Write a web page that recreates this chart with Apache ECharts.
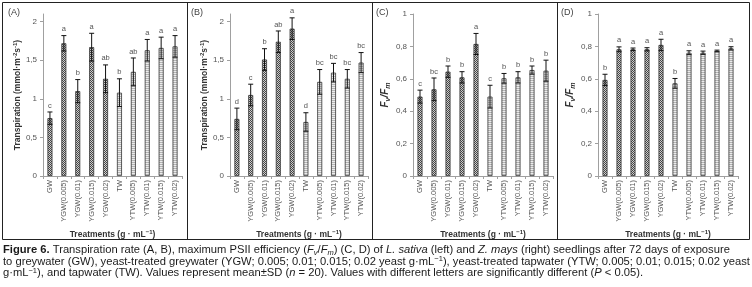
<!DOCTYPE html>
<html>
<head>
<meta charset="utf-8">
<script src="https://cdn.jsdelivr.net/npm/echarts@6/dist/echarts.min.js"></script>
<style>
  html, body { margin: 0; padding: 0; background: #fff; }
  #main { width: 752px; height: 287px; }
</style>
</head>
<body>
<div id="main"></div>
<script>
  // treatments on the x axis (same for all four panels)
  var treatments = ['GW', 'YGW(0.005)', 'YGW(0.01)', 'YGW(0.015)', 'YGW(0.02)',
                    'TW', 'YTW(0.005)', 'YTW(0.01)', 'YTW(0.015)', 'YTW(0.02)'];

  // (A) transpiration, L. sativa
  var transpSativa = [0.75, 1.72, 1.10, 1.67, 1.26, 1.08, 1.35, 1.63, 1.66, 1.68];
  var transpSativaSd = [0.08, 0.10, 0.15, 0.18, 0.18, 0.18, 0.18, 0.14, 0.14, 0.14];
  var transpSativaLetters = ['c', 'a', 'b', 'a', 'ab', 'b', 'ab', 'a', 'a', 'a'];

  // (B) transpiration, Z. mays
  var transpMays = [0.74, 1.05, 1.51, 1.74, 1.91, 0.70, 1.22, 1.34, 1.26, 1.47];
  var transpMaysSd = [0.14, 0.14, 0.14, 0.14, 0.14, 0.12, 0.16, 0.12, 0.12, 0.13];
  var transpMaysLetters = ['d', 'c', 'b', 'ab', 'a', 'd', 'bc', 'bc', 'bc', 'bc'];

  // (C) Fv/Fm, L. sativa
  var fvfmSativa = [0.49, 0.535, 0.644, 0.609, 0.815, 0.49, 0.603, 0.609, 0.654, 0.65];
  var fvfmSativaSd = [0.04, 0.07, 0.035, 0.035, 0.065, 0.07, 0.03, 0.035, 0.025, 0.065];
  var fvfmSativaLetters = ['c', 'bc', 'b', 'b', 'a', 'c', 'b', 'b', 'b', 'b'];

  // (D) Fv/Fm, Z. mays
  var fvfmMays = [0.593, 0.782, 0.782, 0.782, 0.809, 0.572, 0.761, 0.761, 0.772, 0.788];
  var fvfmMaysSd = [0.035, 0.015, 0.008, 0.01, 0.035, 0.03, 0.012, 0.01, 0.005, 0.01];
  var fvfmMaysLetters = ['b', 'a', 'a', 'a', 'a', 'b', 'a', 'a', 'a', 'a'];

  // y axis ticks
  var transpTicks = [0, 0.5, 1, 1.5, 2];
  var fvfmTicks = [0, 0.2, 0.4, 0.6, 0.8, 1];

  // hatch fills, like the excel patterns
  function makePattern(kind) {
    var c = document.createElement('canvas');
    c.width = 2; c.height = 2;
    var ctx = c.getContext('2d');
    if (kind === 'dark') {
      ctx.fillStyle = '#cfcfcf'; ctx.fillRect(0, 0, 2, 2);
      ctx.fillStyle = '#454545'; ctx.fillRect(0, 0, 1, 1); ctx.fillRect(1, 1, 1, 1);
    } else {
      ctx.fillStyle = '#ececec'; ctx.fillRect(0, 0, 2, 2);
      ctx.fillStyle = '#b4b4b4'; ctx.fillRect(0, 0, 2, 1);
    }
    return {image: c, repeat: 'repeat'};
  }
  var darkFill = makePattern('dark');
  var lightFill = makePattern('light');

  var panels = [
    {tag: '(A)', vals: transpSativa, sd: transpSativaSd, letters: transpSativaLetters, ticks: transpTicks, max: 2.1, left: 43, width: 139, kind: 't'},
    {tag: '(B)', vals: transpMays, sd: transpMaysSd, letters: transpMaysLetters, ticks: transpTicks, max: 2.1, left: 230, width: 138, kind: 't'},
    {tag: '(C)', vals: fvfmSativa, sd: fvfmSativaSd, letters: fvfmSativaLetters, ticks: fvfmTicks, max: 1, left: 413, width: 140, kind: 'f'},
    {tag: '(D)', vals: fvfmMays, sd: fvfmMaysSd, letters: fvfmMaysLetters, ticks: fvfmTicks, max: 1, left: 598, width: 140, kind: 'f'}
  ];

  var textColor = '#404040';
  var axisColor = '#a0a0a0';

  var transpName = '{t|Transpiration (mmol·m}{sup|-2}{t|s}{sup|-1}{t|)}';
  var fvfmName = '{i|F}{sub|v}{i|/F}{sub|m}';

  var grid = [], xAxis = [], yAxis = [], series = [], graphic = [];

  panels.forEach(function (p, k) {
    grid.push({left: p.left, top: 14, width: p.width, height: 162});
    xAxis.push({
      type: 'category',
      gridIndex: k,
      data: treatments,
      name: '{b|Treatments (g · mL}{sup|−1}{b|)}',
      nameLocation: 'middle',
      nameGap: 51,
      nameTextStyle: {
        rich: {
          b: {fontSize: 8.5, fontWeight: 'bold', color: '#333', fontFamily: 'Liberation Sans'},
          sup: {fontSize: 6, fontWeight: 'bold', color: '#333', padding: [0, 0, 5, 0], fontFamily: 'Liberation Sans'}
        }
      },
      axisLine: {lineStyle: {color: axisColor, width: 1}},
      axisTick: {show: true, length: 3, lineStyle: {color: axisColor}},
      axisLabel: {rotate: 90, fontSize: 7.5, color: '#555', margin: 4, interval: 0, fontFamily: 'Liberation Sans'}
    });
    yAxis.push({
      type: 'value',
      gridIndex: k,
      min: 0,
      max: p.max,
      name: p.kind === 't' ? transpName : fvfmName,
      nameLocation: 'middle',
      nameRotate: 90,
      nameGap: p.kind === 't' ? 19 : 21,
      nameTextStyle: {
        rich: {
          t: {fontSize: 8.5, fontWeight: 'bold', color: '#333', fontFamily: 'Liberation Sans'},
          sup: {fontSize: 6, fontWeight: 'bold', color: '#333', padding: [0, 0, 5, 0], fontFamily: 'Liberation Sans'},
          i: {fontSize: 10, fontWeight: 'bold', fontStyle: 'italic', color: '#333', fontFamily: 'Liberation Sans'},
          sub: {fontSize: 7, fontWeight: 'bold', fontStyle: 'italic', color: '#333', padding: [6, 0, 0, 0], fontFamily: 'Liberation Sans'}
        }
      },
      axisLine: {show: true, lineStyle: {color: axisColor, width: 1}},
      axisTick: {show: true, length: 3, customValues: p.ticks, lineStyle: {color: axisColor}},
      axisLabel: {
        customValues: p.ticks,
        fontSize: 8,
        color: '#555',
        margin: 6,
        fontFamily: 'Liberation Sans',
        formatter: function (v) { return String(v).replace('.', ','); }
      },
      splitLine: {show: false}
    });

    series.push({
      type: 'bar',
      xAxisIndex: k,
      yAxisIndex: k,
      barWidth: 5,
      data: p.vals.map(function (v, i) {
        return {
          value: v,
          itemStyle: {
            color: i < 5 ? darkFill : lightFill,
            borderColor: '#333',
            borderWidth: 0.8
          }
        };
      }),
      silent: true
    });

    series.push({
      type: 'custom',
      xAxisIndex: k,
      yAxisIndex: k,
      z: 5,
      silent: true,
      data: p.vals.map(function (v, i) { return [i, v, p.sd[i]]; }),
      encode: {x: 0, y: 1},
      renderItem: function (params, api) {
        var i = api.value(0), v = api.value(1), s = api.value(2);
        var top = api.coord([i, v + s]);
        var bot = api.coord([i, v - s]);
        var cap = 2.5;
        var st = {stroke: '#111', lineWidth: 1};
        return {
          type: 'group',
          children: [
            {type: 'line', shape: {x1: top[0], y1: top[1], x2: bot[0], y2: bot[1]}, style: st},
            {type: 'line', shape: {x1: top[0] - cap, y1: top[1], x2: top[0] + cap, y2: top[1]}, style: st},
            {type: 'line', shape: {x1: bot[0] - cap, y1: bot[1], x2: bot[0] + cap, y2: bot[1]}, style: st},
            {
              type: 'text',
              x: top[0],
              y: top[1] - 2.5,
              style: {
                text: p.letters[params.dataIndex],
                fontSize: 7.5,
                fill: '#555',
                align: 'center',
                verticalAlign: 'bottom',
                fontFamily: 'Liberation Sans'
              }
            }
          ]
        };
      }
    });

    graphic.push({
      type: 'text',
      left: [8, 191, 376, 561][k],
      top: 8,
      style: {text: p.tag, fontSize: 9, fill: textColor, fontFamily: 'Liberation Sans'}
    });
  });

  // panel frame
  graphic.push({
    type: 'rect',
    shape: {x: 2.5, y: 2.5, width: 747, height: 237},
    style: {fill: null, stroke: '#222', lineWidth: 1}
  });
  [187.5, 372.5, 557.5].forEach(function (x) {
    graphic.push({
      type: 'line',
      shape: {x1: x, y1: 2.5, x2: x, y2: 239.5},
      style: {stroke: '#222', lineWidth: 1}
    });
  });

  // figure caption
  var captionLines = [
    '{b|Figure 6.} Transpiration rate (A, B), maximum PSII efficiency ({i|F}{sub|v}/{i|F}{sub|m}) (C, D) of {i|L. sativa} (left) and {i|Z. mays} (right) seedlings after 72 days of exposure',
    'to greywater (GW), yeast-treated greywater (YGW; 0.005; 0.01; 0.015; 0.02 yeast g·mL{sup|−1}), yeast-treated tapwater (YTW; 0.005; 0.01; 0.015; 0.02 yeast',
    'g·mL{sup|−1}), and tapwater (TW). Values represent mean±SD ({i|n} = 20). Values with different letters are significantly different ({i|P} < 0.05).'
  ];
  var capFont = 'Liberation Sans';
  var capSize = 11.2;
  captionLines.forEach(function (line, j) {
    graphic.push({
      type: 'text',
      x: 3,
      y: 250 + j * 11.5,
      style: {
        text: line,
        fontSize: capSize,
        fontFamily: capFont,
        fill: '#1a1a1a',
        verticalAlign: 'middle',
        rich: {
          b: {fontSize: capSize, fontWeight: 'bold', fontFamily: capFont, fill: '#1a1a1a'},
          i: {fontSize: capSize, fontStyle: 'italic', fontFamily: capFont, fill: '#1a1a1a'},
          sub: {fontSize: 7.5, fontStyle: 'italic', fontFamily: capFont, fill: '#1a1a1a', padding: [5, 0, 0, 0]},
          sup: {fontSize: 7.5, fontFamily: capFont, fill: '#1a1a1a', padding: [0, 0, 5, 0]}
        }
      }
    });
  });

  var chart = echarts.init(document.getElementById('main'), null, {renderer: 'canvas'});
  chart.setOption({
    animation: false,
    backgroundColor: '#fff',
    grid: grid,
    xAxis: xAxis,
    yAxis: yAxis,
    series: series,
    graphic: graphic
  });
</script>
</body>
</html>
